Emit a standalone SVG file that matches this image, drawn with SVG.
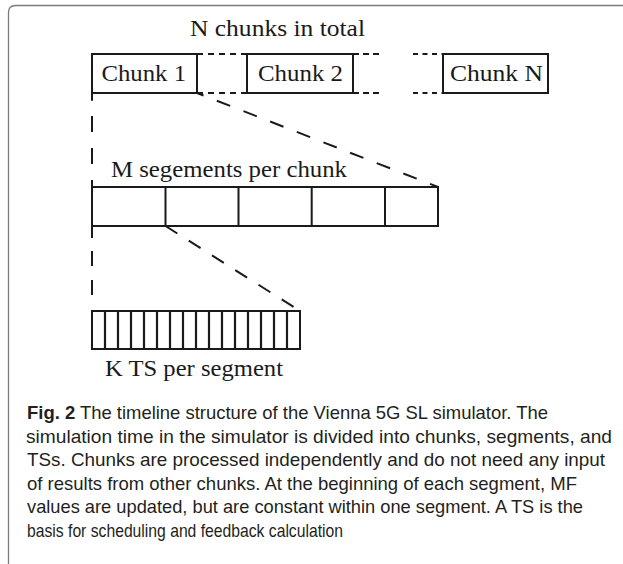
<svg xmlns="http://www.w3.org/2000/svg" width="623" height="564" viewBox="0 0 623 564">
<style>
.frame{fill:none;stroke:#7a7a7a;stroke-width:1.3}
.box{fill:#fff;stroke:#1a1a1a;stroke-width:2}
.div{stroke:#1a1a1a;stroke-width:2;fill:none}
.tick{stroke:#1a1a1a;stroke-width:2.2;fill:none}
.dash{stroke:#1a1a1a;stroke-width:2;fill:none}
.lbl{font-family:"Liberation Serif","Times New Roman",serif;font-size:22.5px;fill:#1a1a1a}
.cap{font-family:"Liberation Sans",Arial,sans-serif;font-size:18.5px;fill:#231f20}
.b{font-weight:bold}
</style>
<path class="frame" d="M8.5 566 L8.5 12.5 Q8.5 5.5 15.5 5.5 L623 5.5"/>
<text class="lbl" x="190" y="36" textLength="175" lengthAdjust="spacingAndGlyphs">N chunks in total</text>
<g id="connectors">
<line class="dash" x1="197" y1="54" x2="247" y2="54" stroke-dasharray="6 5"/>
<line class="dash" x1="197" y1="93" x2="247" y2="93" stroke-dasharray="6 5"/>
<line class="dash" x1="353" y1="54" x2="381" y2="54" stroke-dasharray="6 4"/>
<line class="dash" x1="353" y1="93" x2="381" y2="93" stroke-dasharray="6 4"/>
<line class="dash" x1="413" y1="54" x2="443" y2="54" stroke-dasharray="5 4.5"/>
<line class="dash" x1="413" y1="93" x2="443" y2="93" stroke-dasharray="5 4.5"/>
<line class="dash" x1="92" y1="93" x2="92" y2="187" stroke-dasharray="7.7 15.3 16 16 16 16 16 16"/>
<line class="dash" x1="92" y1="226" x2="92" y2="311" stroke-dasharray="12 13 15 14 15 100"/>
<line class="dash" x1="197" y1="93" x2="438" y2="187" stroke-dasharray="14.3 14.3" stroke-dashoffset="7.3"/>
<line class="dash" x1="165.5" y1="226" x2="300" y2="311" stroke-dasharray="14 13.5"/>
</g>
<g id="chunk1">
<rect class="box" x="92" y="54" width="105" height="39"/>
<text class="lbl" x="101.5" y="81" textLength="84.5" lengthAdjust="spacingAndGlyphs">Chunk 1</text>
</g>
<g id="chunk2">
<rect class="box" x="247" y="54" width="106" height="39"/>
<text class="lbl" x="258" y="81" textLength="85" lengthAdjust="spacingAndGlyphs">Chunk 2</text>
</g>
<g id="chunkN">
<rect class="box" x="443" y="54" width="105" height="39"/>
<text class="lbl" x="450" y="81" textLength="93" lengthAdjust="spacingAndGlyphs">Chunk N</text>
</g>
<g id="segments">
<text class="lbl" x="111" y="177" textLength="236" lengthAdjust="spacingAndGlyphs">M segements per chunk</text>
<rect class="box" x="92" y="187" width="346" height="39"/>
<path class="div" d="M165.5 187V226M238.5 187V226M311.7 187V226M385 187V226"/>
</g>
<g id="timeslots">
<rect class="box" x="92" y="311" width="208" height="38"/>
<path class="tick" d="M105 311V349M118 311V349M131 311V349M144 311V349M157 311V349M170 311V349M183 311V349M196 311V349M209 311V349M222 311V349M235 311V349M248 311V349M261 311V349M274 311V349M287 311V349"/>
<text class="lbl" x="105" y="376" textLength="178" lengthAdjust="spacingAndGlyphs">K TS per segment</text>
</g>
<g id="caption">
<text class="cap" x="27" y="419" textLength="521" lengthAdjust="spacingAndGlyphs"><tspan class="b">Fig. 2</tspan> The timeline structure of the Vienna 5G SL simulator. The</text>
<text class="cap" x="26" y="442.5" textLength="586" lengthAdjust="spacingAndGlyphs">simulation time in the simulator is divided into chunks, segments, and</text>
<text class="cap" x="27" y="466" textLength="578" lengthAdjust="spacingAndGlyphs">TSs. Chunks are processed independently and do not need any input</text>
<text class="cap" x="27" y="489.5" textLength="550" lengthAdjust="spacingAndGlyphs">of results from other chunks. At the beginning of each segment, MF</text>
<text class="cap" x="27" y="513" textLength="556" lengthAdjust="spacingAndGlyphs">values are updated, but are constant within one segment. A TS is the</text>
<text class="cap" x="27" y="536.5" textLength="316" lengthAdjust="spacingAndGlyphs">basis for scheduling and feedback calculation</text>
</g>
</svg>
